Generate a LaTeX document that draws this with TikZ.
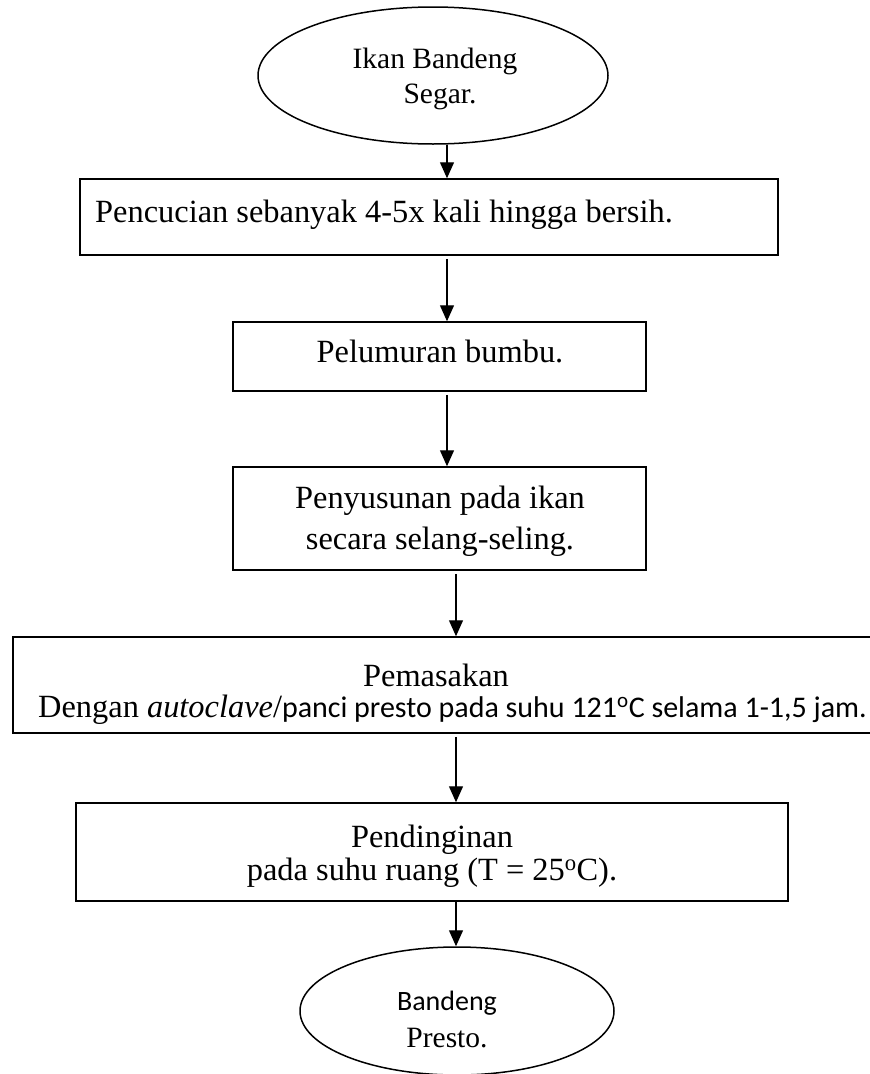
\documentclass[tikz,border=0pt]{standalone}
\usepackage{fontspec}
\setmainfont{Liberation Serif}
\newfontfamily\calfont{Carlito}
\usetikzlibrary{arrows.meta,shapes.geometric}
\begin{document}
\begin{tikzpicture}[x=1pt,y=-1pt,
  box/.style={draw, line width=1.5pt, rectangle, inner sep=0pt},
  oval/.style={draw, line width=1.5pt, ellipse, inner sep=0pt},
  lbl/.style={anchor=base, inner sep=0pt, font=\fontsize{32.4}{38}\selectfont},
  olbl/.style={anchor=base, inner sep=0pt, font=\fontsize{29.5}{35}\selectfont},
  cal/.style={font=\fontsize{28}{34}\calfont},
  arr/.style={line width=1.3pt, -{Triangle[length=16pt,width=14pt]}, shorten <=3pt}]
\useasboundingbox (0,0) rectangle (870,1074);
\clip (0,0) rectangle (870,1074);

% shapes
\node[oval, minimum width=350pt, minimum height=137pt] (e1) at (433,75.5) {};
\node[box, minimum width=698pt, minimum height=76pt] (b1) at (429,217) {};
\node[box, minimum width=413pt, minimum height=69pt] (b2) at (439.5,356.5) {};
\node[box, minimum width=413pt, minimum height=103pt] (b3) at (439.5,518.5) {};
\node[box, minimum width=900pt, minimum height=96pt] (b4) at (463,685) {};
\node[box, minimum width=712pt, minimum height=98pt] (b5) at (432,852) {};
\node[oval, minimum width=314pt, minimum height=128pt] (e2) at (457,1011) {};

% texts
\node[olbl] (t1a) at (435,68) {Ikan Bandeng};
\node[olbl] (t1b) at (440,103) {Segar.};
\node[lbl, anchor=base west] (t2) at (95,222) {Pencucian sebanyak 4-5x kali hingga bersih.};
\node[lbl] (t3) at (440,362) {Pelumuran bumbu.};
\node[lbl] (t4a) at (440,508) {Penyusunan pada ikan};
\node[lbl] (t4b) at (440,549) {secara selang-seling.};
\node[lbl] (t5a) at (436,686) {Pemasakan};
\node[lbl, anchor=base west] (t5b) at (38,717) {Dengan \textit{autoclave}/{\fontsize{30}{36}\calfont panci presto pada suhu 121\textsuperscript{o}C selama 1-1,5 jam.}};
\node[lbl] (t6a) at (432,847) {Pendinginan};
\node[lbl] (t6b) at (432,880) {pada suhu ruang (T = 25\textsuperscript{o}C).};
\node[olbl, cal] (t7a) at (447,1010) {Bandeng};
\node[olbl] (t7b) at (447,1047) {Presto.};

% connectors
\coordinate (xa) at (447,0);
\coordinate (xb) at (456,0);
\draw[arr, shorten <=0pt] (e1.south -| xa) -- (b1.north -| xa);
\draw[arr] (b1.south -| xa) -- (b2.north -| xa);
\draw[arr] (b2.south -| xa) -- (b3.north -| xa);
\draw[arr] (b3.south -| xb) -- (b4.north -| xb);
\draw[arr] (b4.south -| xb) -- (b5.north -| xb);
\draw[arr, shorten <=0pt] (b5.south -| xb) -- (e2.north -| xb);
\end{tikzpicture}
\end{document}
